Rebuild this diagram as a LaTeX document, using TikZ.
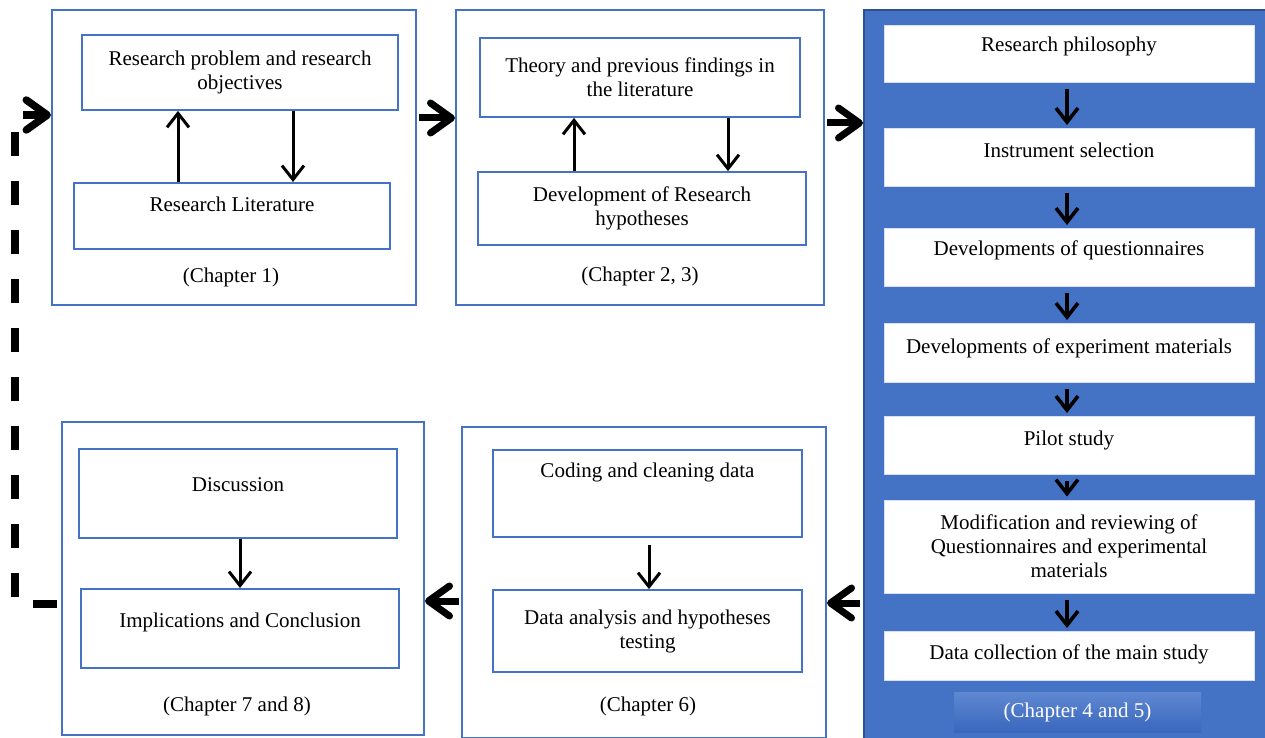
\documentclass[tikz,border=0pt]{standalone}
\usepackage{fontspec}
\setmainfont{Liberation Serif}
\usetikzlibrary{arrows.meta,calc}
\definecolor{bl}{HTML}{4472C4}
\definecolor{bldark}{HTML}{2F528F}
\definecolor{lblA}{HTML}{5F88D2}
\definecolor{lblB}{HTML}{3A67BD}
\definecolor{wedge}{HTML}{D6E0F2}
\begin{document}
\begin{tikzpicture}[x=1pt,y=-1pt,
 font=\fontsize{21}{24}\selectfont,
 panel/.style={draw=bl, line width=2pt, fill=white, inner sep=0pt},
 ibox/.style={draw=bl, line width=1.8pt, fill=white, align=center, inner sep=0pt},
 wbox/.style={draw=wedge, line width=1pt, fill=white, align=center, inner sep=0pt, minimum width=370pt},
 sarrow/.style={line width=3pt, -{Straight Barb[length=14pt,width=22pt]}},
 rarrow/.style={line width=3.6pt, -{Straight Barb[length=14pt,width=22pt]}},
 bigarrow/.style={line width=7pt, -{Straight Barb[length=21pt,width=30pt,round]}},
 chap/.style={inner sep=0pt}
]
\useasboundingbox (0,0) rectangle (1265,738);
\fill[white] (0,0) rectangle (1265,738);

% panels
\node[panel, minimum width=364pt, minimum height=295pt] (p1) at (234,157.5) {};
\node[panel, minimum width=368pt, minimum height=295pt] (p2) at (640,157.5) {};
\node[draw=bldark, fill=bl, line width=2pt, inner sep=0pt, minimum width=404pt, minimum height=732pt] (p3) at (1066,376) {};
\node[panel, minimum width=364pt, minimum height=311pt] (p4) at (644,582.5) {};
\node[panel, minimum width=362pt, minimum height=313pt] (p5) at (243,578.5) {};

% panel 1
\node[ibox, minimum width=316pt, minimum height=75pt] (rp) at (240,72.5) {Research problem and research\\objectives};
\node[ibox, minimum width=316pt, anchor=north, text height=29pt, text depth=37pt] (lit) at (232,182) {Research Literature};
\node[chap] (c1) at (231,277) {(Chapter 1)};
\draw[sarrow] ([xshift=-54pt]lit.north) -- ([xshift=-54pt]lit.north |- rp.south);
\draw[sarrow] ([xshift=53pt]rp.south) -- ([xshift=53pt]rp.south |- lit.north);

% panel 2
\node[ibox, minimum width=320pt, minimum height=79pt] (th) at (640,77.5) {Theory and previous findings in\\the literature};
\node[ibox, minimum width=328pt, minimum height=73pt] (dev) at (642,208.5) {Development of Research\\hypotheses};
\node[chap] (c23) at (640,276) {(Chapter 2, 3)};
\draw[sarrow] ([xshift=-68pt]dev.north) -- ([xshift=-68pt]dev.north |- th.south);
\draw[sarrow] ([xshift=88pt]th.south) -- ([xshift=88pt]th.south |- dev.north);

% right panel
\node[wbox, anchor=north, text height=26pt, text depth=31pt] (b1) at (1069,25) {Research philosophy};
\node[wbox, anchor=north, text height=29pt, text depth=29pt] (b2) at (1069,128) {Instrument selection};
\node[wbox, anchor=north, text height=27pt, text depth=31pt] (b3) at (1069,228) {Developments of questionnaires};
\node[wbox, anchor=north, text height=30pt, text depth=29pt] (b4) at (1069,323) {Developments of experiment materials};
\node[wbox, anchor=north, text height=29pt, text depth=29pt] (b5) at (1069,416) {Pilot study};
\node[wbox, minimum height=93pt] (b6) at (1069,546.5) {Modification and reviewing of\\Questionnaires and experimental\\materials};
\node[wbox, anchor=north, text height=28pt, text depth=21pt] (b7) at (1069,631) {Data collection of the main study};
\node[shading=axis, top color=lblA, bottom color=lblB, minimum width=247pt, minimum height=40pt, inner sep=0pt, text=white] (c45) at (1077.5,712) {\raisebox{-3pt}{(Chapter 4 and 5)}};
\foreach \a/\b in {b1/b2,b2/b3,b3/b4,b4/b5,b5/b6,b6/b7}{
  \draw[rarrow, shorten <=6pt, shorten >=3pt] ([xshift=-2pt]\a.south) -- ([xshift=-2pt]\b.north);
}

% chapter 6 panel
\node[ibox, minimum width=309pt, anchor=north, text height=28pt, text depth=59pt] (cd) at (647.5,449) {Coding and cleaning data};
\node[ibox, minimum width=309pt, minimum height=82pt] (da) at (647.5,631) {Data analysis and hypotheses\\testing};
\node[chap] (c6) at (648,706) {(Chapter 6)};
\draw[sarrow, shorten <=7pt] ([xshift=1.5pt]cd.south) -- ([xshift=1.5pt]da.north);

% chapter 7 and 8 panel
\node[ibox, minimum width=318pt, anchor=north, text height=43pt, text depth=46pt] (disc) at (238,448) {Discussion};
\node[ibox, minimum width=318pt, anchor=north, text height=39pt, text depth=40pt] (imp) at (240,588) {Implications and Conclusion};
\node[chap] (c78) at (237,706) {(Chapter 7 and 8)};
\draw[sarrow] ([xshift=2pt]disc.south) -- ([xshift=2pt]disc.south |- imp.north);

% big arrows
\draw[bigarrow, shorten <=2pt] ([yshift=39.5pt]p1.east) -- ([yshift=39.5pt]p1.east -| p2.west);
\draw[bigarrow, shorten <=2pt] ([yshift=34.5pt]p2.east) -- ([yshift=34.5pt]p2.east -| p3.west);
\draw[bigarrow, shorten <=3pt] ([yshift=-227pt]p3.west) -- ([yshift=-227pt]p3.west -| p4.east);
\draw[bigarrow, shorten <=2pt] ([yshift=-18.5pt]p4.west) -- ([yshift=-18.5pt]p4.west -| p5.east);

% dashed feedback
\coordinate (dl1) at (15,604);
\coordinate (dl2) at (15,115);
\draw[line width=7.5pt, dash pattern=on 24pt off 25pt, shorten <=4pt, -{Straight Barb[length=21pt,width=30pt,round]}]
  ([yshift=-25.5pt]p5.west) -- (dl1) -- (dl2) -- (dl2 -| p1.west);
\end{tikzpicture}
\end{document}
